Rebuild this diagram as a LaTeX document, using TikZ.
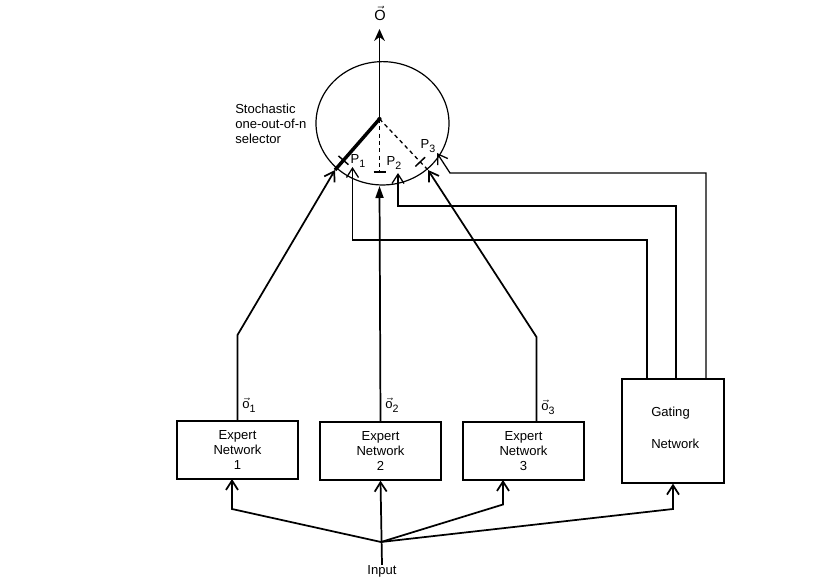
\documentclass[tikz,border=0pt]{standalone}
\usepackage{fontspec}
\setmainfont{Liberation Sans}
\usetikzlibrary{arrows.meta,calc,shapes.geometric}
\newcommand{\mysub}[1]{\raisebox{-3pt}{\fontsize{8}{9}\selectfont #1}}
\begin{document}
\begin{tikzpicture}[x=0.75pt,y=-0.75pt,
  txt/.style={font=\fontsize{9.8}{11.4}\selectfont, inner sep=0pt},
  ebox/.style={draw, line width=1pt, minimum width=90.75pt, minimum height=43.5pt,
    inner sep=0pt, align=center, font=\fontsize{9.8}{11.25}\selectfont},
  gbox/.style={draw, line width=1pt, minimum width=76.5pt, minimum height=78pt, inner sep=0pt},
  thinl/.style={line width=0.95pt},
  medl/.style={line width=1.3pt},
  barb/.style={-{Straight Barb[length=7pt,width=9pt]}},
  fillhead/.style={-{Triangle[length=9pt,width=6pt]}},
  outhead/.style={-{Stealth[length=9pt,width=8pt,inset=3pt]}},
]
\useasboundingbox (0,0) rectangle (818,588);

% selector
\node[draw, line width=0.9pt, ellipse, minimum width=99.75pt, minimum height=92.5pt, inner sep=0pt] (sel) at (382.5,123.3) {};
\coordinate (pivot) at (379.5,119);
\fill (pivot) circle (1.6pt);
\coordinate (otip) at (379.5,29);
\draw[thinl, outhead] (pivot) -- (otip);
\node[txt, font=\fontsize{11}{12}\selectfont] (olab) at (380,13) {$\vec{\hbox{O}}$};
\node[txt, align=left, anchor=west] (stoch) at (235,124) {Stochastic\\one-out-of-n\\selector};

% tips
\coordinate (e1tip) at (335,170);
\coordinate (e2tip) at (379.5,186);
\coordinate (e3tip) at (428,170);
\coordinate (t2) at (379.5,172);
\draw[line width=2.6pt] (pivot) -- (e1tip);
\draw[thinl, dash pattern=on 3pt off 2.5pt] (pivot) -- (t2);
\draw[thinl, dash pattern=on 3pt off 2.5pt] (pivot) -- (e3tip);
\coordinate (t1) at ($(pivot)!0.81!(e1tip)$);
\coordinate (t3) at ($(pivot)!0.84!(e3tip)$);
\draw[line width=1.1pt] ($(t1)!5pt!90:(pivot)$) -- ($(t1)!5pt!-90:(pivot)$);
\draw[line width=1.1pt] ($(t3)!5pt!90:(pivot)$) -- ($(t3)!5pt!-90:(pivot)$);
\draw[line width=1.1pt] ($(t2)+(-6,0)$) -- ($(t2)+(6,0)$);
\node[txt] (p1) at (358,161) {P\mysub{1}};
\node[txt] (p2) at (394,163) {P\mysub{2}};
\node[txt] (p3) at (428,146) {P\mysub{3}};

% boxes
\node[ebox] (e1) at (237.5,450) {Expert\\Network\\1};
\node[ebox] (e2) at (380.5,451) {Expert\\Network\\2};
\node[ebox] (e3) at (523.5,451) {Expert\\Network\\3};
\node[gbox] (gate) at (673,431) {};
\node[txt, anchor=west] (gl1) at (651,413) {Gating};
\node[txt, anchor=west] (gl2) at (651,444) {Network};

% expert outputs
\draw[medl, barb] (e1.north) |- (237.5,335) -- (e1tip);
\draw[medl, fillhead] (e2.north) -- (e2tip);
\coordinate (e3out) at ($(e3.north)+(13,0)$);
\draw[medl, barb] (e3out) -- (536.5,337) -- (e3tip);
\node[txt, anchor=west] (o1) at (242,405) {$\vec{\hbox{o}}$\mysub{1}};
\node[txt, anchor=west] (o2) at (385,405) {$\vec{\hbox{o}}$\mysub{2}};
\node[txt, anchor=west] (o3) at (541,407) {$\vec{\hbox{o}}$\mysub{3}};

% gating outputs
\coordinate (g1) at ($(gate.north)+(-26,0)$);
\coordinate (g2) at ($(gate.north)+(3,0)$);
\coordinate (g3) at ($(gate.north)+(33,0)$);
\coordinate (g1tip) at (352.5,167);
\coordinate (g2tip) at (398,173);
\coordinate (g3tip) at (437,153);
\draw[thinl, barb] (g1) -- (647,240) -- (352.5,240) -- (g1tip);
\draw[thinl, barb] (g2) -- (676,206) -- (398,206) -- (g2tip);
\draw[thinl, barb] (g3) -- (706,173) -- (450,173) -- (g3tip);

% input
\node[txt] (inp) at (382,571) {Input};
\coordinate (junc) at (381,542);
\draw[medl, barb] (inp.north) -- (e2.south);
\draw[medl, barb] (junc) -- (232,509) -- (232,479);
\draw[medl, barb] (junc) -- (503,504.5) -- (503,480);
\draw[medl, barb] (junc) -- (673,509) -- (gate.south);
\end{tikzpicture}
\end{document}
